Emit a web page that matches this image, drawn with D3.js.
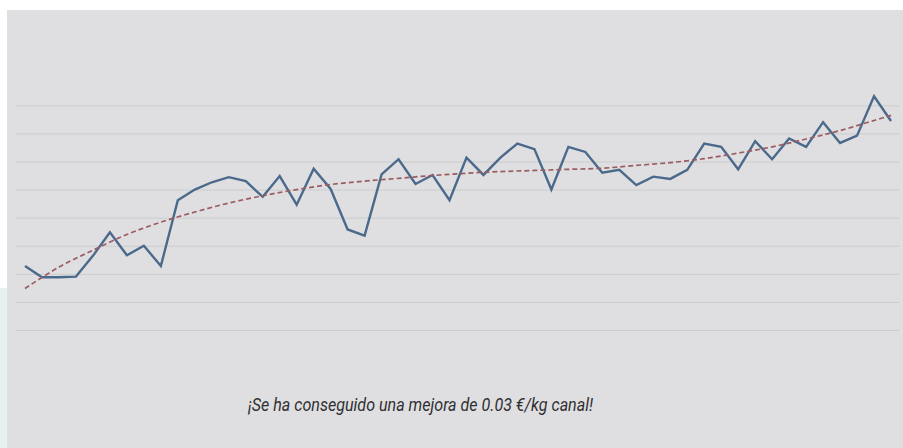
<!DOCTYPE html>
<html>
<head>
<meta charset="utf-8">
<script src="https://cdn.jsdelivr.net/npm/d3@7"></script>
<style>
  html, body { margin: 0; padding: 0; background: #ffffff; }
  svg { display: block; }
</style>
</head>
<body>
<figure id="chart" style="margin:0"></figure>
<script>
// weekly carcass price (€/kg canal)
const weeks = d3.range(1, 53);
const price = [
  1.7114, 1.7094, 1.7094, 1.7095, 1.7132, 1.7174, 1.7133, 1.7150, 1.7114, 1.7231,
  1.7250, 1.7263, 1.7272, 1.7265, 1.7237, 1.7274, 1.7223, 1.7287, 1.7251, 1.7179,
  1.7168, 1.7277, 1.7304, 1.7260, 1.7276, 1.7231, 1.7307, 1.7276, 1.7307, 1.7332,
  1.7322, 1.7250, 1.7326, 1.7317, 1.7280, 1.7285, 1.7258, 1.7273, 1.7269, 1.7285,
  1.7332, 1.7326, 1.7286, 1.7336, 1.7304, 1.7341, 1.7326, 1.7370, 1.7333, 1.7346,
  1.7416, 1.7372
];
// trend line, read at every other week
const trendWeeks = [1, 3, 5, 7, 9, 11, 13, 15, 17, 19, 21, 23, 25, 27, 29, 31, 33, 35, 37, 39, 41, 43, 45, 47, 49, 51, 52];
const trendPrice = [
  1.7074, 1.7112, 1.7142, 1.7170, 1.7192, 1.7210, 1.7226, 1.7239, 1.7250, 1.7259,
  1.7265, 1.7270, 1.7275, 1.7279, 1.7282, 1.7284, 1.7286, 1.7288, 1.7293, 1.7298,
  1.7305, 1.7315, 1.7326, 1.7340, 1.7355, 1.7373, 1.7382
];
const yTicks = [1.700, 1.705, 1.710, 1.715, 1.720, 1.725, 1.730, 1.735, 1.740];
const caption = "¡Se ha conseguido una mejora de 0.03 €/kg canal!";

const W = 903, H = 448;

const svg = d3.select("#chart").append("svg")
  .attr("width", W)
  .attr("height", H);

// panel background + mint strip on the left
svg.append("rect").attr("x", 0).attr("y", 288).attr("width", 7).attr("height", H - 288)
  .attr("fill", "#e4f3ef");
svg.append("rect").attr("x", 7).attr("y", 10).attr("width", W - 7).attr("height", H - 10)
  .attr("fill", "#dfdfe1");

const x = d3.scaleLinear().domain([1, 52]).range([25, 891]);
const y = d3.scaleLinear().domain([1.700, 1.740]).range([330, 105.3]);

// gridlines
svg.append("g")
  .attr("transform", "translate(16,0)")
  .call(d3.axisLeft(y).tickValues(yTicks).tickSize(-883).tickFormat(""))
  .call(g => g.select(".domain").remove())
  .call(g => g.selectAll(".tick line").attr("stroke", "#cbccce").attr("stroke-width", 1));

// price line
const line = d3.line()
  .x((d, i) => x(weeks[i]))
  .y(d => y(d));

svg.append("path")
  .datum(price)
  .attr("fill", "none")
  .attr("stroke", "#4b6a8b")
  .attr("stroke-width", 2.4)
  .attr("stroke-linejoin", "miter")
  .attr("d", line);

// trend (dashed)
const trend = d3.line()
  .curve(d3.curveCatmullRom)
  .x((d, i) => x(trendWeeks[i]))
  .y(d => y(d));

svg.append("path")
  .datum(trendPrice)
  .attr("fill", "none")
  .attr("stroke", "#9b5c62")
  .attr("stroke-width", 1.7)
  .attr("stroke-dasharray", "5,3")
  .attr("d", trend);

// caption
svg.append("text")
  .attr("x", 420.5)
  .attr("y", 410.5)
  .attr("text-anchor", "middle")
  .attr("font-family", "'Liberation Sans Narrow', 'Roboto', sans-serif")
  .attr("font-style", "italic")
  .attr("font-size", 18)
  .attr("fill", "#2f2f33")
  .attr("textLength", 345)
  .attr("lengthAdjust", "spacingAndGlyphs")
  .text(caption);
</script>
</body>
</html>
